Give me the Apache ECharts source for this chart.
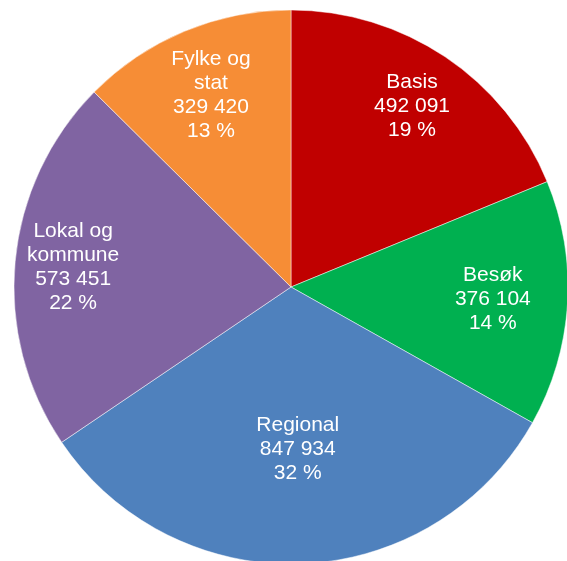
<!DOCTYPE html>
<html>
<head>
<meta charset="utf-8">
<script src="https://cdn.jsdelivr.net/npm/echarts@6/dist/echarts.min.js"></script>
<style>html,body{margin:0;padding:0;background:#fff}#c{width:567px;height:561px}</style>
</head>
<body>
<div id="c"></div>
<script>
const categories = ['Basis', 'Besøk', 'Regional', 'Lokal og kommune', 'Fylke og stat'];
const values = [492091, 376104, 847934, 573451, 329420];
const colors = ['#C00000', '#00B050', '#4F81BD', '#8064A2', '#F68D36'];

const total = values.reduce((a, b) => a + b, 0);
const cx = 291, cy = 287, R = 277;
const labelDist = [0.785, 0.73, 0.585, 0.79, 0.75];
const midAngles = [];
let acc = 0;
values.forEach(v => { midAngles.push((acc + v / 2) / total * 2 * Math.PI); acc += v; });

function fmtNum(n) { return String(n).replace(/\B(?=(\d{3})+(?!\d))/g, ' '); }
function wrapName(s) { return s.replace(' og ', ' og\n'); }

const chart = echarts.init(document.getElementById('c'), null, { renderer: 'canvas' });
chart.setOption({
  animation: false,
  series: [{
    type: 'pie',
    center: [cx, cy],
    radius: [0, R],
    startAngle: 90,
    clockwise: true,
    data: categories.map((c, i) => ({ name: c, value: values[i], itemStyle: { color: colors[i] } })),
    itemStyle: { borderColor: 'rgba(255,255,255,0.6)', borderWidth: 0.8 },
    label: {
      show: true,
      position: 'inside',
      color: '#fff',
      fontFamily: 'Liberation Sans, Arial, sans-serif',
      fontSize: 21,
      lineHeight: 24,
      align: 'center',
      formatter: p => wrapName(p.name) + '\n' + fmtNum(p.value) + '\n' + Math.round(p.value / total * 100) + ' %'
    },
    labelLine: { show: false },
    labelLayout: p => {
      const i = p.dataIndex;
      const d = labelDist[i] * R;
      return {
        x: cx + d * Math.sin(midAngles[i]),
        y: cy - d * Math.cos(midAngles[i]),
        align: 'center',
        verticalAlign: 'middle'
      };
    },
    emphasis: { disabled: true }
  }]
});
</script>
</body>
</html>
